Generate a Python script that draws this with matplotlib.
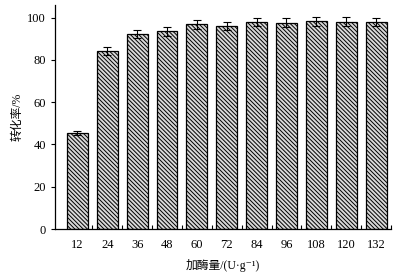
import matplotlib.pyplot as plt
import numpy as np

# enzyme dosage categories and conversion rate
doses = ['12', '24', '36', '48', '60', '72', '84', '96', '108', '120', '132']
rate = [45.5, 84.2, 92.3, 93.5, 96.8, 96.1, 97.8, 97.6, 98.2, 98.1, 98.0]
err = [1.0, 2.0, 2.0, 2.0, 2.0, 2.0, 2.0, 2.0, 2.2, 2.2, 2.0]
yticks = [0, 20, 40, 60, 80, 100]

plt.rcParams['font.family'] = ['Liberation Serif', 'Noto Sans CJK SC', 'DejaVu Sans']
plt.rcParams['hatch.color'] = '#333333'
plt.rcParams['hatch.linewidth'] = 0.7

fig = plt.figure(figsize=(3.97, 2.74), dpi=100)
ax = fig.add_axes([0.1385, 0.164, 0.8465, 0.818])

x = np.arange(len(doses))
ax.bar(x, rate, width=0.7, color='#d8d8d8', edgecolor='black', linewidth=0.9,
       hatch='\\\\\\\\\\\\\\\\', yerr=err, capsize=3,
       error_kw=dict(elinewidth=0.8, capthick=0.8, ecolor='black'))

ax.set_xlim(-0.75, 10.5)
ax.set_ylim(0, 106)
ax.set_yticks(yticks)
ax.set_xticks(x)
ax.set_xticklabels(doses)
ax.set_xticks(list(x + 0.5), minor=True)
ax.tick_params(axis='x', which='major', length=0, labelsize=9, pad=7)
ax.tick_params(axis='x', which='minor', direction='in', length=3, width=0.8)
ax.tick_params(axis='y', direction='out', length=3, width=0.8, labelsize=9)

for s in ['top', 'right']:
    ax.spines[s].set_visible(False)
for s in ['left', 'bottom']:
    ax.spines[s].set_linewidth(0.9)

ax.set_ylabel('转化率/%', fontsize=8.5, labelpad=3)
ax.set_xlabel('加酶量/(U·g⁻¹)', fontsize=8.5, labelpad=6)

plt.savefig('out.png', dpi=100)
